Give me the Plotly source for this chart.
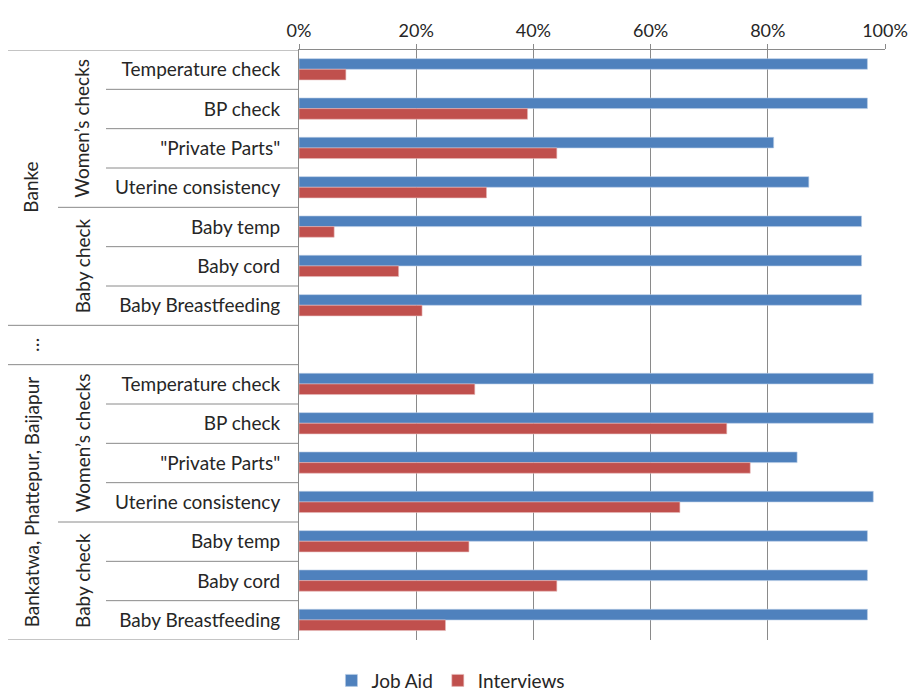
import plotly.graph_objects as go

# Category hierarchy (top to bottom)
regions = ["Banke", "…", "Bankatwa, Phattepur, Baijapur"]
check_items = ["Temperature check", "BP check", "\"Private Parts\"", "Uterine consistency",
               "Baby temp", "Baby cord", "Baby Breastfeeding"]
row_labels = check_items + [""] + check_items

# Percent values per row (None for the spacer row)
job_aid = [97, 97, 81, 87, 96, 96, 96, None, 98, 98, 85, 98, 97, 97, 97]
interviews = [8, 39, 44, 32, 6, 17, 21, None, 30, 73, 77, 65, 29, 44, 25]

x_ticks = [0, 20, 40, 60, 80, 100]
x_tick_text = [f"{v}%" for v in x_ticks]

rows = list(range(len(row_labels)))

FONT = "Lato"
TXT = "#262626"
GRID = "#8a8a8a"
BLUE = "#4F81BD"
RED = "#C0504D"
FS = 19

fig = go.Figure()
fig.add_trace(go.Bar(y=rows, x=job_aid, orientation="h", name="Job Aid",
                     marker=dict(color=BLUE, line=dict(color="#b9cde5", width=0.6)),
                     width=0.27, offset=-0.28))
fig.add_trace(go.Bar(y=rows, x=interviews, orientation="h", name="Interviews",
                     marker=dict(color=RED, line=dict(color="#e6b9b8", width=0.6)),
                     width=0.27, offset=-0.01))

L, R, T, B = 299, 26, 50, 53
W = 911 - L - R


def px_to_paper(px):
    return (px - L) / W


# Separator lines of the hierarchical category axis
def hline(ypos, x_px):
    fig.add_shape(type="line", xref="paper", yref="y",
                  x0=px_to_paper(x_px), x1=0, y0=ypos, y1=ypos,
                  line=dict(color=GRID, width=1), layer="above")


for b in [-0.5, 6.5, 7.5, 14.5]:
    hline(b, 8)
for b in [3.5, 11.5]:
    hline(b, 58)
for b in [0.5, 1.5, 2.5, 4.5, 5.5, 8.5, 9.5, 10.5, 12.5, 13.5]:
    hline(b, 106)

# Group labels (rotated)
def vlabel(text, x_px, ycenter, size=FS):
    fig.add_annotation(text=text, xref="paper", yref="y", x=px_to_paper(x_px), y=ycenter,
                       textangle=-90, showarrow=False, xanchor="center", yanchor="middle",
                       font=dict(family=FONT, size=size, color=TXT))


vlabel(regions[0], 31, 3)
vlabel(regions[1], 31, 7)
vlabel(regions[2], 31, 11)
vlabel("Women’s checks", 82, 1.5)
vlabel("Baby check", 82, 5)
vlabel("Women’s checks", 82, 9.5)
vlabel("Baby check", 82, 13)

fig.update_layout(
    width=911, height=693,
    margin=dict(l=L, r=R, t=T, b=B, autoexpand=False),
    paper_bgcolor="white", plot_bgcolor="white",
    font=dict(family=FONT, size=FS, color=TXT),
    barmode="overlay",
    showlegend=True,
    legend=dict(orientation="h", xref="container", yref="container",
                x=0.495, y=0.018, xanchor="center", yanchor="middle",
                font=dict(family=FONT, size=FS, color=TXT), itemwidth=30,
                traceorder="normal"),
    xaxis=dict(side="top", range=[0, 100], tickvals=x_ticks, ticktext=x_tick_text,
               showgrid=True, gridcolor=GRID, gridwidth=1, automargin=False,
               zeroline=False, showline=True, linecolor=GRID, linewidth=1,
               ticks="outside", ticklen=5, tickcolor=GRID,
               tickfont=dict(family=FONT, size=18, color=TXT), fixedrange=True),
    yaxis=dict(range=[14.5, -0.5], tickvals=rows, ticktext=row_labels, automargin=False,
               showgrid=False, zeroline=False, showline=True, linecolor=GRID,
               linewidth=1, ticks="", ticklabelstandoff=14,
               tickfont=dict(family=FONT, size=FS, color=TXT), fixedrange=True),
)

fig.write_html("out.html")
